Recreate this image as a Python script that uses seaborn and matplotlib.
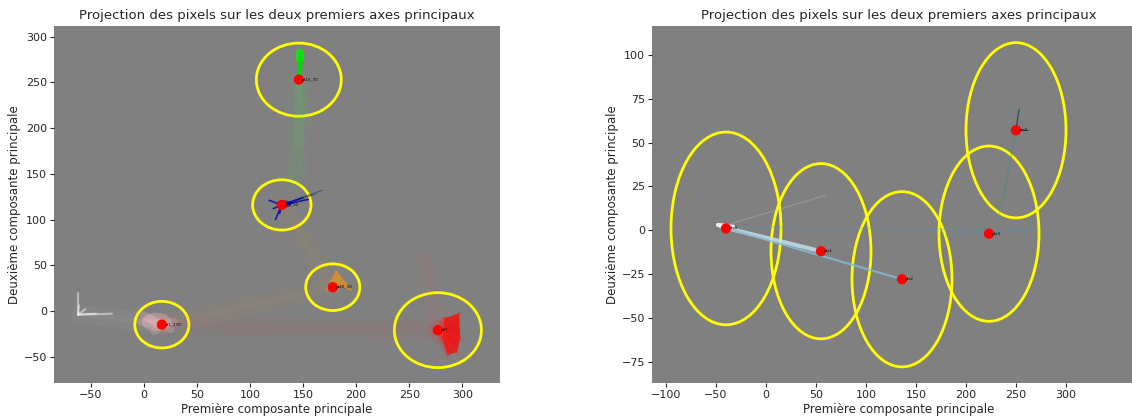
import numpy as np
import pandas as pd
import matplotlib
matplotlib.use("Agg")
import matplotlib.pyplot as plt
from matplotlib.patches import Ellipse, Polygon
import seaborn as sns

sns.set_style("ticks")
plt.rcParams['font.family'] = ['DejaVu Sans']

# ---------------- data : left panel ----------------
left_names = ["pt15_70", "pt5_10", "pt40_30", "pt1_170", "pt0"]
left_cx = [146, 130, 178, 17, 277]
left_cy = [253, 116, 26, -15, -21]
left_radius = [40, 27.5, 25.5, 25.5, 41]

# streak tips (pixel clouds) for each cluster of the left panel
green_tips_x = [147, 149, 145, 148, 146, 150]
green_tips_y = [286, 283, 282, 276, 270, 279]
green_faint_x = [150, 146, 155]
green_faint_y = [150, 180, 205]
blue_tips_x = [124, 150, 118, 140, 128, 155, 122]
blue_tips_y = [100, 124, 121, 118, 107, 122, 112]
blue_faint_x = [168, 162]
blue_faint_y = [132, 128]
orange_poly_x = [171, 181, 197, 185]
orange_poly_y = [22, 45, 21, 27]
pink_tips_x = [0, 5, 25, 10, -2, 28]
pink_tips_y = [-5, -8, -20, -22, -12, -12]
white_x = [-62, -62, -61, -45, -30, -55]
white_y = [-4, 20, 6, -3, -3, 2]
red_poly_x = [283, 297, 298, 295, 286, 281]
red_poly_y = [-8, -3, -30, -45, -48, -30]

# faint haze links between clouds (from -> to)
haze_x0 = [17, 17, 277, -60, 146, 178]
haze_y0 = [-15, -15, -21, -3, 253, 26]
haze_x1 = [277, 178, 265, 17, 140, 130]
haze_y1 = [-21, 26, 55, -15, 140, 116]
haze_colors = ["#ff4040", "#ffa040", "#ff6060", "#ffffff", "#40ff40", "#ffa040"]

# ---------------- data : right panel ----------------
right_names = ["pts0", "pts1", "pts2", "pts3", "pts4"]
right_cx = [-40, 55, 136, 223, 250]
right_cy = [1, -12, -28, -2, 57]
right_radius = [55, 50, 50, 50, 50]

right_link_x0 = [-45, -45, -45, -45, -48, 180, 232, 238, 240, 250, 250]
right_link_y0 = [2, 2, 2, 2, 3, -3, 5, 20, 55, 57, 57]
right_link_x1 = [55, 136, 265, 60, -33, 265, 250, 250, 250, 253, 262]
right_link_y1 = [-12, -28, 0, 20, 2, 0, 57, 57, 57, 69, 57]
right_link_col = ["#c8e4f0", "#86bdd8", "#5b9bc0", "#c0c0c0", "#ffffff",
                  "#4f8fb5", "#3f8a8a", "#3f8a8a", "#3f8a8a", "#1f4f5f", "#1f4f5f"]
right_link_lw = [3.0, 1.6, 1.0, 1.0, 3.0, 1.2, 0.8, 0.8, 1.0, 1.0, 0.8]
right_link_alpha = [0.8, 0.8, 0.3, 0.3, 0.9, 0.35, 0.3, 0.3, 0.4, 0.9, 0.8]

# ---------------- figure ----------------
fig = plt.figure(figsize=(11.32, 4.19), dpi=100)
W, H = 1132, 419
axL = fig.add_axes([54 / W, (H - 383) / H, (500 - 54) / W, (383 - 26) / H])
axR = fig.add_axes([652 / W, (H - 383) / H, (1145 - 652) / W, (383 - 26) / H])

bg = "#808080"
for ax in (axL, axR):
    ax.set_facecolor(bg)

# ---- left panel clouds ----
for x0, y0, x1, y1, c in zip(haze_x0, haze_y0, haze_x1, haze_y1, haze_colors):
    axL.plot([x0, x1], [y0, y1], color=c, lw=14, alpha=0.035, solid_capstyle="round")
    axL.plot([x0, x1], [y0, y1], color=c, lw=4, alpha=0.035)

# green
for tx, ty in zip(green_faint_x, green_faint_y):
    axL.plot([left_cx[0], tx], [left_cy[0], ty], color="#40ff40", lw=6, alpha=0.05)
for tx, ty in zip(green_tips_x, green_tips_y):
    axL.plot([left_cx[0], tx], [left_cy[0], ty], color="#00dd00", lw=2, alpha=0.45)
axL.add_patch(Ellipse((147, 279), 8, 16, color="#22ee22", alpha=0.9, lw=0))

# blue
for tx, ty in zip(blue_faint_x, blue_faint_y):
    axL.plot([left_cx[1], tx], [left_cy[1], ty], color="#303060", lw=1.0, alpha=0.5)
for tx, ty in zip(blue_tips_x, blue_tips_y):
    axL.plot([left_cx[1], tx], [left_cy[1], ty], color="#0000aa", lw=1.2, alpha=0.8)
axL.add_patch(Ellipse((132, 117), 14, 8, color="#0000aa", alpha=0.6, lw=0))

# orange
axL.add_patch(Polygon(list(zip(orange_poly_x, orange_poly_y)), closed=True,
                      color="#ff9900", alpha=0.6, lw=0))

# pink
for tx, ty in zip(pink_tips_x, pink_tips_y):
    axL.plot([left_cx[3], tx], [left_cy[3], ty], color="#ffc0cb", lw=6, alpha=0.2)
axL.add_patch(Ellipse((12, -12), 28, 20, color="#ffc0cb", alpha=0.3, lw=0))

# white
for i in range(1, len(white_x)):
    axL.plot([white_x[0], white_x[i]], [white_y[0], white_y[i]],
             color="white", lw=1.5, alpha=0.45)

# red
axL.add_patch(Ellipse((283, -22), 30, 30, color="#ff2020", alpha=0.15, lw=0))
axL.add_patch(Polygon(list(zip(red_poly_x, red_poly_y)), closed=True,
                      color="#ff0000", alpha=0.75, lw=0))
for tx, ty in zip(red_poly_x, red_poly_y):
    axL.plot([left_cx[4], tx], [left_cy[4], ty], color="#ff2020", lw=3, alpha=0.3)

# ellipses and centers (left)
for x, y, r in zip(left_cx, left_cy, left_radius):
    axL.add_patch(Ellipse((x, y), 2 * r, 2 * r, fill=False, ec="yellow", lw=2))
dfL = pd.DataFrame({"x": left_cx, "y": left_cy, "name": left_names})
sns.scatterplot(data=dfL, x="x", y="y", ax=axL, color="red", s=55,
                edgecolor="none", zorder=5, legend=False)
for x, y, n in zip(left_cx, left_cy, left_names):
    axL.text(x + 3, y, n, fontsize=3, color="black", va="center", zorder=6)

axL.set_xlim(-84.6, 335.5)
axL.set_ylim(-78.8, 311.7)
axL.set_xticks([-50, 0, 50, 100, 150, 200, 250, 300])
axL.set_yticks([-50, 0, 50, 100, 150, 200, 250, 300])

# ---- right panel ----
for x0, y0, x1, y1, c, lw, a in zip(right_link_x0, right_link_y0, right_link_x1,
                                     right_link_y1, right_link_col, right_link_lw,
                                     right_link_alpha):
    axR.plot([x0, x1], [y0, y1], color=c, lw=lw, alpha=a)

for x, y, r in zip(right_cx, right_cy, right_radius):
    axR.add_patch(Ellipse((x, y), 2 * r, 2 * r, fill=False, ec="yellow", lw=2))
dfR = pd.DataFrame({"x": right_cx, "y": right_cy, "name": right_names})
sns.scatterplot(data=dfR, x="x", y="y", ax=axR, color="red", s=55,
                edgecolor="none", zorder=5, legend=False)
for x, y, n in zip(right_cx, right_cy, right_names):
    axR.text(x + 3, y, n, fontsize=3, color="black", va="center", zorder=6)

axR.set_xlim(-114, 379)
axR.set_ylim(-87.2, 116.5)
axR.set_xticks([-100, -50, 0, 50, 100, 150, 200, 250, 300])
axR.set_yticks([-75, -50, -25, 0, 25, 50, 75, 100])

title = "Projection des pixels sur les deux premiers axes principaux"
for ax in (axL, axR):
    ax.set_title(title, fontsize=9.5, pad=5)
    ax.set_xlabel("Première composante principale", fontsize=8.5, labelpad=2)
    ax.set_ylabel("Deuxième composante principale", fontsize=8.5, labelpad=2)
    ax.tick_params(labelsize=8, length=3, width=0.8, pad=2)
    for s in ax.spines.values():
        s.set_visible(False)

fig.savefig("out.png", dpi=100, facecolor="white")
